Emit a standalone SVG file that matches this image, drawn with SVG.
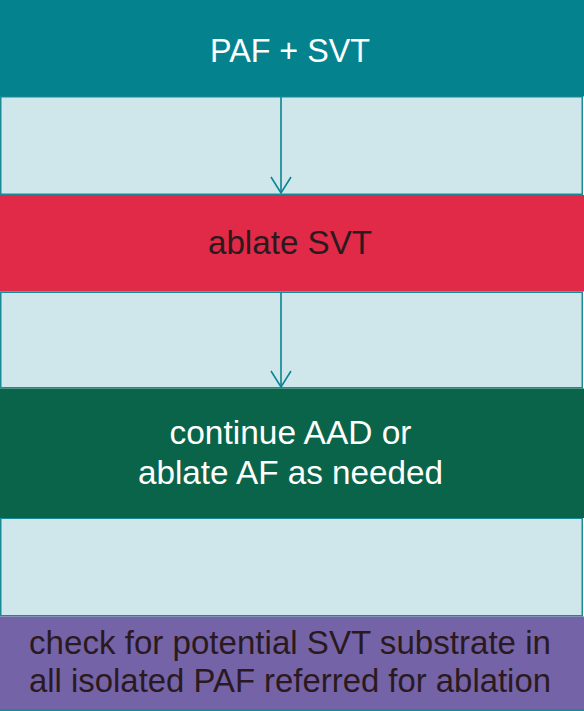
<svg xmlns="http://www.w3.org/2000/svg" width="584" height="711" viewBox="0 0 584 711">
<style>
.band{fill:#cfe7eb;stroke:#1a8a96;stroke-width:1.5}
.t{font-family:"Liberation Sans",Arial,Helvetica,sans-serif;font-size:33px;text-anchor:middle}
.w{fill:#ffffff}
.d{fill:#2a1a20}
.conn{stroke:#0a8592;stroke-width:1.6;fill:none}
</style>
<rect x="0" y="0" width="584" height="711" fill="#ffffff"/>
<g id="bands">
<rect class="band" x="0.75" y="96.75" width="581.5" height="97.5"/>
<rect class="band" x="0.75" y="292.25" width="581.5" height="95.5"/>
<rect class="band" x="0.75" y="518.25" width="581.5" height="97.5"/>
</g>
<g id="node-paf-svt">
<rect x="0" y="0" width="584" height="96.5" fill="#04838f"/>
<text class="t w" x="290" y="62" textLength="160" lengthAdjust="spacingAndGlyphs">PAF + SVT</text>
</g>
<g id="node-ablate-svt">
<rect x="0" y="195" width="584" height="96.5" fill="#e02a47"/>
<text class="t d" x="290" y="254" textLength="164" lengthAdjust="spacingAndGlyphs">ablate SVT</text>
</g>
<g id="node-continue">
<rect x="0" y="388.5" width="584" height="129.5" fill="#0a6449"/>
<text class="t w" x="290.5" y="444" textLength="242" lengthAdjust="spacingAndGlyphs">continue AAD or</text>
<text class="t w" x="290.5" y="484" textLength="305" lengthAdjust="spacingAndGlyphs">ablate AF as needed</text>
</g>
<g id="node-check">
<rect x="0" y="616.5" width="584" height="93" fill="#7563a8"/>
<line x1="0" y1="710" x2="584" y2="710" stroke="#1a8a96" stroke-width="2"/>
<text class="t d" x="290" y="654" textLength="522" lengthAdjust="spacingAndGlyphs">check for potential SVT substrate in</text>
<text class="t d" x="290" y="692" textLength="522" lengthAdjust="spacingAndGlyphs">all isolated PAF referred for ablation</text>
</g>
<g id="connectors">
<line class="conn" x1="281" y1="96.5" x2="281" y2="193"/>
<polyline class="conn" points="271,177 281,193 291,177"/>
<line class="conn" x1="281" y1="292" x2="281" y2="387"/>
<polyline class="conn" points="271,371 281,387 291,371"/>
</g>
</svg>
